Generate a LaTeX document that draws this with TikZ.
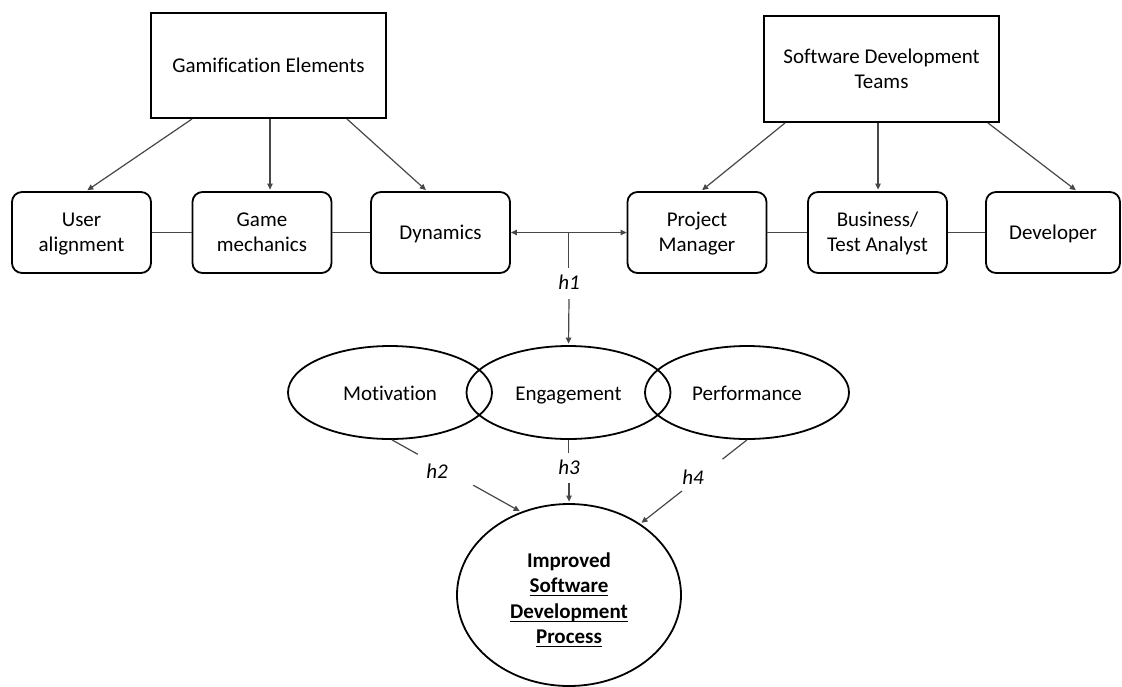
\documentclass[tikz,border=0pt]{standalone}
\usepackage{fontspec}
\setmainfont{Carlito}[Ligatures=NoCommon]
\usetikzlibrary{arrows.meta,calc,shapes.geometric}

% raised first line for two-line labels
\newcommand\firstln{\rule{0pt}{21pt}}
% underline at a fixed distance below the baseline
\newcommand\flatul[1]{\underline{\raisebox{0pt}[\height][1.5pt]{#1}}}

\begin{document}
\begin{tikzpicture}[x=1pt,y=-1pt,
  every node/.style={font=\fontsize{21}{25.5}\selectfont, text=black},
  topbox/.style={draw=black, line width=2pt, minimum width=235pt, minimum height=105pt,
    align=center, inner sep=0pt},
  item/.style={draw=black, line width=1.8pt, rounded corners=10pt, minimum width=139pt,
    minimum height=81pt, align=center, inner sep=0pt},
  single/.style={text height=17pt, text depth=3pt},
  oval/.style={draw=black, ellipse, line width=1.8pt, minimum width=204pt,
    minimum height=93pt, inner sep=0pt, text height=18pt, text depth=2pt},
  conn/.style={draw=black!72, line width=1.2pt},
  tip/.tip={Triangle[length=6pt,width=5.5pt]},
  arr/.style={conn, -tip, shorten >=1.5pt},
  hlab/.style={font=\fontsize{21}{25.5}\selectfont\itshape}
]
\useasboundingbox (0,0) rectangle (1122,686);

% top-level categories
\node[topbox] (gam) at (268.5,65.5) {Gamification Elements};
\node[topbox, minimum height=106pt] (sdt) at (881.5,69) {Software Development\\Teams};

% gamification elements
\node[item] (ua)  at (81.5,232.5)  {\firstln User\\alignment\strut};
\node[item] (gm)  at (262,232.5)   {\firstln Game\\mechanics\strut};
\node[item, single] (dyn) at (440.5,232.5) {Dynamics};

% team roles
\node[item] (pm)  at (697,232.5)   {\firstln Project\\Manager\strut};
\node[item] (bus) at (877.5,232.5) {\firstln Business/\\Test Analyst\strut};
\node[item, single, minimum width=134pt] (dev) at (1053,232.5) {Developer};

% outcomes
\node[oval] (mot) at (390,392.5)   {Motivation};
\node[oval] (eng) at (568.5,392.5) {Engagement};
\node[oval] (per) at (747,392.5)   {Performance};

\node[draw=black, ellipse, line width=1.8pt, minimum width=224pt, minimum height=182pt,
  inner sep=0pt, align=center, font=\fontsize{21}{25.5}\selectfont\bfseries] (imp)
  at (569,595) {\rule{0pt}{24pt}Improved\\\flatul{Software}\\\flatul{Development}\\\flatul{Process}};

% hierarchy arrows
\draw[arr] ([xshift=42pt]gam.south west) -- ([xshift=75pt]ua.north west);
\draw[arr] ([xshift=1.5pt]gam.south) -- ([xshift=8pt]gm.north);
\draw[arr] ([xshift=-40pt]gam.south east) -- ([xshift=-13.5pt]dyn.north);
\draw[arr] ([xshift=22pt]sdt.south west) -- ([xshift=4pt]pm.north);
\draw[arr] ([xshift=-3.5pt]sdt.south) -- ([xshift=0.5pt]bus.north);
\draw[arr] ([xshift=-12pt]sdt.south east) -- ([xshift=24pt]dev.north);

% links inside each group
\draw[conn] (ua) -- (gm);
\draw[conn] (gm) -- (dyn);
\draw[conn] (pm) -- (bus);
\draw[conn] (bus) -- (dev);

% h1: gamification <-> teams, feeding engagement
\draw[conn, tip-tip] (dyn.east) -- (pm.west);
\coordinate (j1) at ($(dyn.east)!0.5!(pm.west)$);
\node[hlab] (h1) at (569,282) {h1};
\draw[conn] (j1) -- ++(0,35);
\draw[arr] ([yshift=-17pt]h1.center) -- (eng.north);

% h2
\coordinate (p2) at ([xshift=2pt]mot.south);
\node[hlab] (h2) at (437,471) {h2};
\draw[conn] (p2) -- ($(p2)!0.2!(imp.120)$);
\draw[arr] ($(p2)!0.63!(imp.120)$) -- (imp.120);

% h3
\node[hlab] (h3) at (569,467) {h3};
\draw[conn] (eng.south) -- ++(0,13);
\draw[arr] ($(imp.north)+(0,-20)$) -- (imp.north);

% h4
\coordinate (p4) at (per.south);
\node[hlab] (h4) at (693,477) {h4};
\draw[conn] (p4) -- ($(p4)!0.23!(imp.45)$);
\draw[arr] ($(p4)!0.61!(imp.45)$) -- (imp.45);
\end{tikzpicture}
\end{document}
